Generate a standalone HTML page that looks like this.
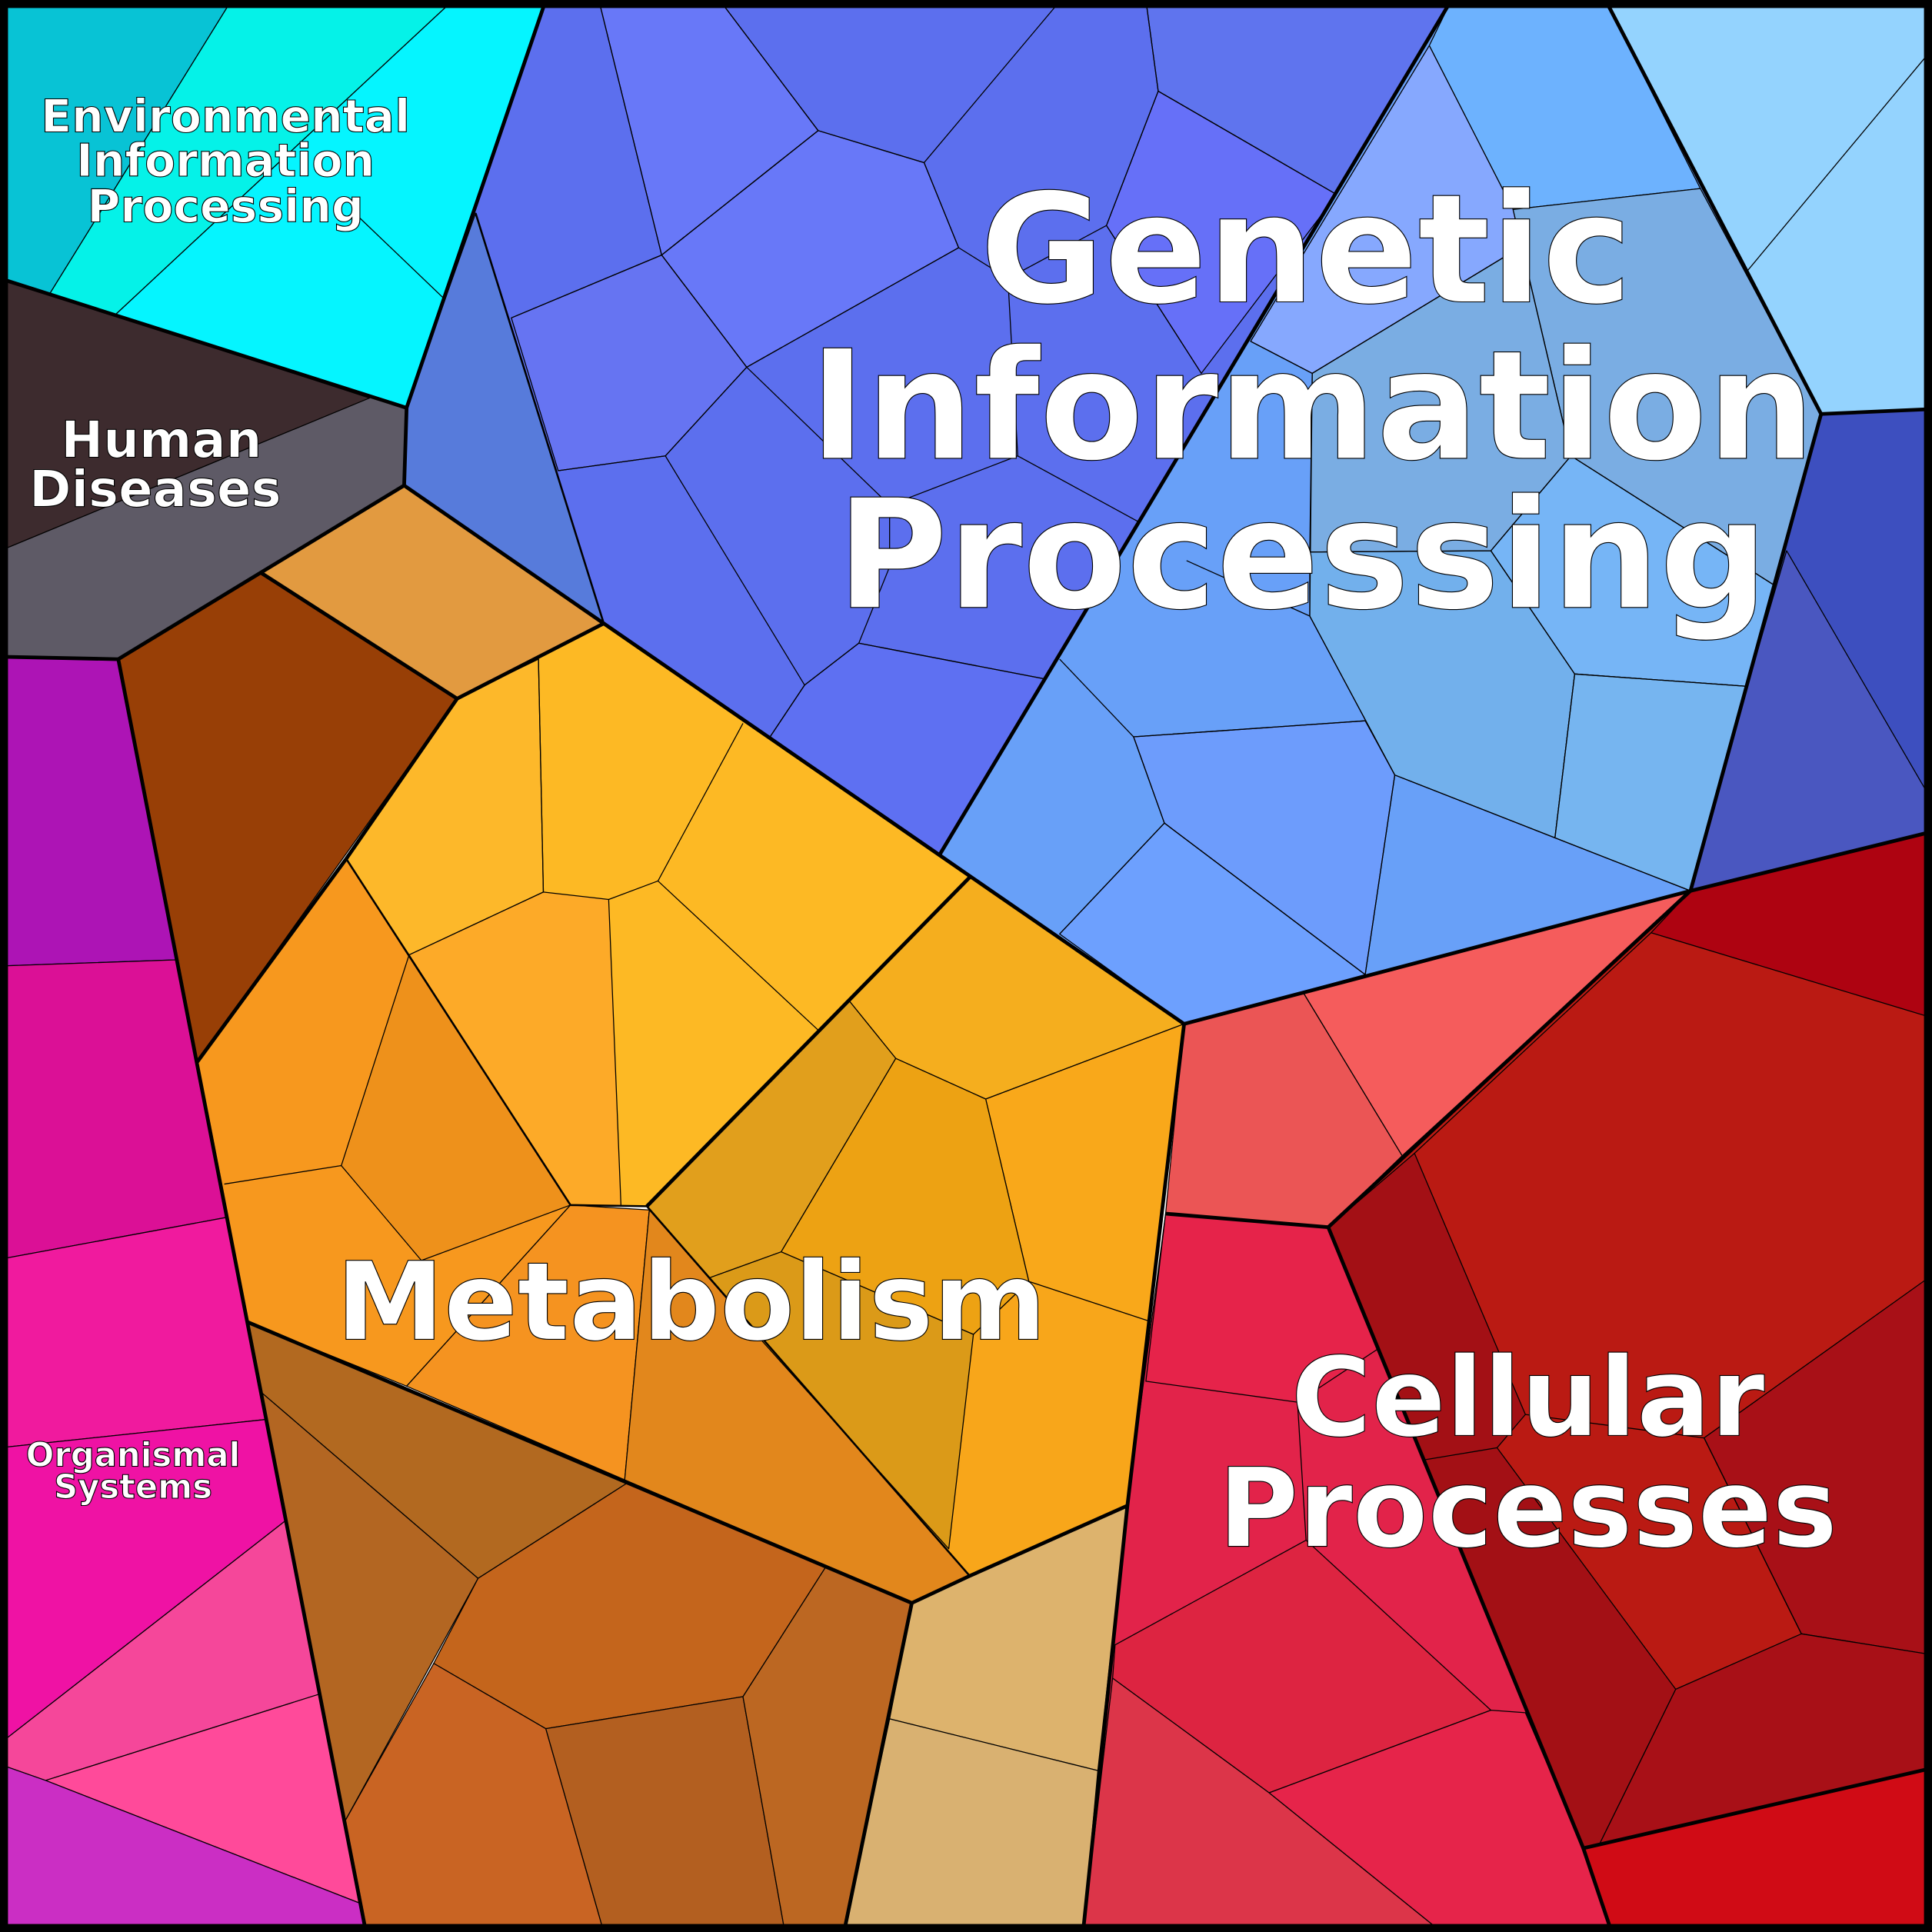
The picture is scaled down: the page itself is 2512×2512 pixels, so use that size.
<!DOCTYPE html>
<html><head><meta charset="utf-8"><style>html,body{margin:0;padding:0;background:#fff}svg{display:block}</style></head>
<body>
<svg xmlns="http://www.w3.org/2000/svg" width="2512" height="2512" viewBox="0 0 1568 1568">
<g stroke="#000" stroke-width="0.8" stroke-linejoin="round">
<!-- Environmental -->
<polygon points="0,0 188,0 40,239 0,226" fill="#08C3D5"/>
<polygon points="188,0 368,0 93,256 40,239" fill="#05F2E8"/>
<polygon points="368,0 443,0 330,331 93,256" fill="#05F5FF"/>
<line x1="290" y1="175" x2="360" y2="242"/>
<!-- Human diseases -->
<polygon points="0,226 330,331 328,394 96,535 0,533" fill="#5E5A66"/>
<polygon points="0,226 300,323 0,447" fill="#3D2B2E"/>
<!-- Genetic left group -->
<polygon points="443,0 1178,0 763,693 490,506 328,394 330,331" fill="#5C6FEE"/>
<polygon points="386,173 490,506 328,394 330,331" fill="#577BDB"/>
<polygon points="486,0 584,0 664,106 537,207" fill="#6878F8"/>
<polygon points="537,207 664,106 750,132 778,201 606,298" fill="#6878F8"/>
<polygon points="415,258 537,207 606,298 540,370 453,382" fill="#6674F2"/>
<polygon points="930,0 1178,0 1085,158 940,74" fill="#5F74EE"/>
<polygon points="940,74 1085,158 975,303 898,183" fill="#6670F8"/>
<polygon points="625,598 653,556 697,522 848,551 763,693" fill="#5E70F2"/>
<g fill="none">
<polyline points="486,0 537,207 415,258"/>
<polyline points="537,207 664,106 584,0"/>
<polyline points="664,106 750,132 861,0"/>
<polyline points="750,132 778,201 606,298 537,207"/>
<polyline points="606,298 540,370 453,382"/>
<polyline points="540,370 653,556 625,598"/>
<polyline points="653,556 697,522 848,551"/>
<polyline points="697,522 722,460 722,410 606,298"/>
<polyline points="778,201 818,226 826,370 722,410"/>
<polyline points="826,370 925,424"/>
<polyline points="930,0 940,74 1085,158"/>
<polyline points="940,74 898,183 975,303"/>
<polyline points="898,183 818,226"/>
</g>
<!-- Genetic middle light blue group -->
<polygon points="1178,0 1303,0 1478,336 1372,723 961,831 763,693" fill="#68A0F8"/>
<polygon points="1160,37 1178,0 1303,0 1380,153 1228,170" fill="#6DB2FE"/>
<polygon points="1160,37 1228,170 1235,200 1065,303 1015,277" fill="#86A8FE"/>
<polygon points="1228,170 1380,153 1478,336 1440,475 1275,370 1235,200" fill="#7AADE3"/>
<polygon points="1065,303 1235,200 1275,370 1210,447 1063,448" fill="#7AADE3"/>
<polygon points="1063,448 1210,447 1278,547 1262,680 1132,629 1063,500" fill="#72B0EC"/>
<polygon points="1275,370 1440,475 1418,557 1278,547 1210,447" fill="#76B5F6"/>
<polygon points="1278,547 1418,557 1372,723 1262,680" fill="#76B5F0"/>
<polygon points="920,598 1108,585 1132,629 1108,791 945,668" fill="#6D9CFC"/>
<polygon points="860,758 945,668 1108,791 961,831" fill="#6DA0FE"/>
<g fill="none">
<polyline points="1015,277 1065,303 1063,500 1132,629 1372,723"/>
<polyline points="1065,303 1235,200 1275,370 1210,447 1278,547 1418,557"/>
<polyline points="1275,370 1440,475"/>
<polyline points="1278,547 1262,680"/>
<polyline points="1063,448 1210,447"/>
<polyline points="1063,500 963,455"/>
<polyline points="1132,629 1108,791 945,668 860,758"/>
<polyline points="1108,585 920,598 860,535"/>
<polyline points="920,598 945,668"/>
</g>
<!-- Genetic right groups -->
<polygon points="1303,0 1568,0 1568,332 1478,336" fill="#94D3FE"/>
<line x1="1418" y1="220" x2="1568" y2="40"/>
<polygon points="1478,336 1568,332 1568,675 1372,723" fill="#3D4FBF"/>
<polygon points="1450,447 1568,650 1568,675 1372,723 1418,557" fill="#4A57C0"/>
<!-- Metabolism -->
<polygon points="96,535 212,465 371,567 160,862" fill="#983F06"/>
<polygon points="212,465 328,394 490,506 371,567" fill="#E29A40"/>
<polygon points="371,567 490,506 787,712 525,979 463,978 281,697" fill="#FDB924"/>
<polygon points="371,567 437,535 441,724 332,775 281,697" fill="#FDB82A"/>
<polygon points="332,775 441,724 494,730 504,979 463,978" fill="#FDAA28"/>
<g fill="none"><polyline points="437,535 441,724"/><polyline points="494,730 534,715 603,587"/><polyline points="534,715 664,836"/></g>
<polygon points="281,697 463,978 330,1125 201,1073 160,862" fill="#F7981E"/>
<polygon points="332,775 463,978 342,1023 277,946" fill="#EE911B"/>
<polyline points="277,946 182,961" fill="none"/>
<polygon points="463,978 527,982 507,1201 330,1125" fill="#F59320"/>
<polygon points="527,982 787,1279 740,1301 507,1201" fill="#E2871C"/>
<polygon points="525,979 787,712 961,831 915,1222 787,1279" fill="#F8A61A"/>
<polygon points="689,812 787,712 961,831 800,892 727,859" fill="#F5AE1E"/>
<polygon points="800,892 961,831 932,1072 835,1040" fill="#F9A81A"/>
<polygon points="525,979 689,812 727,859 634,1016 576,1037" fill="#E19F1C"/>
<polygon points="727,859 800,892 835,1040 790,1083 634,1016" fill="#EDA213"/>
<polygon points="576,1037 634,1016 790,1083 770,1257 620,1090" fill="#DB9A18"/>
<polygon points="201,1073 510,1203 388,1281 212,1130" fill="#B26920"/>
<polygon points="212,1130 388,1281 280,1478" fill="#B36622"/>
<polygon points="388,1281 510,1203 670,1272 603,1377 443,1403 352,1350" fill="#C4651C"/>
<polygon points="352,1350 443,1403 490,1568 297,1568 280,1478" fill="#C96423"/>
<polygon points="443,1403 603,1377 637,1568 490,1568" fill="#B35F20"/>
<polygon points="670,1272 740,1301 685,1568 637,1568 603,1377" fill="#BC6722"/>
<polygon points="740,1301 787,1279 915,1222 891,1437 722,1395" fill="#DDB36D"/>
<polygon points="722,1395 891,1437 879,1568 685,1568" fill="#D9B171"/>
<!-- Cellular -->
<polygon points="961,831 1058,806 1138,938 1078,996 946,985" fill="#EB5555"/>
<polygon points="1058,806 1372,723 1138,938" fill="#F55C5C"/>
<polygon points="1372,723 1568,675 1568,1435 1285,1500 1078,996" fill="#BA1A13"/>
<polygon points="1340,757 1372,723 1568,675 1568,826" fill="#AE0311"/>
<polygon points="1078,996 1148,936 1238,1148 1215,1175 1360,1371 1298,1497 1285,1500" fill="#A31015"/>
<polygon points="1383,1167 1568,1035 1568,1343 1462,1326" fill="#A81017"/>
<polygon points="1360,1371 1462,1326 1568,1343 1568,1435 1298,1497" fill="#A81017"/>
<g fill="none"><polyline points="1340,757 1148,936"/><polyline points="1238,1148 1383,1167 1462,1326"/><polyline points="1215,1175 1155,1185"/></g>
<polygon points="946,985 1078,996 1285,1500 1308,1568 879,1568 915,1222" fill="#E2234A"/>
<polygon points="946,985 1078,996 1118,1095 1053,1138 930,1121" fill="#E6234A"/>
<polygon points="905,1335 1060,1250 1210,1388 1030,1455 903,1362" fill="#DD2441"/>
<polygon points="903,1362 1030,1455 1170,1568 879,1568" fill="#DC3549"/>
<polygon points="1030,1455 1210,1388 1238,1390 1285,1500 1308,1568 1170,1568" fill="#E6244A"/>
<polyline points="1053,1138 1060,1250" fill="none"/>
<polygon points="1285,1500 1568,1435 1568,1568 1308,1568" fill="#D00B15"/>
<!-- Organismal -->
<polygon points="0,533 96,535 143,779 0,784" fill="#AD14B5"/>
<polygon points="0,784 143,779 184,988 0,1022" fill="#DB1096"/>
<polygon points="0,1022 184,988 216,1152 0,1175" fill="#F01A9E"/>
<polygon points="0,1175 216,1152 232,1234 0,1415" fill="#EF12A4"/>
<polygon points="0,1415 232,1234 259,1375 37,1445 0,1432" fill="#F5479A"/>
<polygon points="37,1445 259,1375 293,1545" fill="#FF4A9A"/>
<polygon points="0,1432 37,1445 293,1545 297,1568 0,1568" fill="#CB2EC4"/>
</g>
<!-- thick group borders -->
<g stroke="#000" stroke-width="3" fill="none" stroke-linejoin="round">
<polyline points="0,226 330,331 443,0"/>
<polyline points="330,331 328,394 96,535 0,533"/>
<polyline points="96,535 297,1568"/>
<polyline points="328,394 490,506 961,831 1372,723 1568,675"/>
<polyline points="961,831 915,1222 879,1568"/>
<polyline points="1178,0 763,693"/>
<polyline points="1303,0 1478,336 1372,723"/>
<polyline points="1478,336 1568,332"/>
<polyline points="212,465 371,567 490,506"/>
<polyline points="371,567 281,697 160,862"/>
<polyline points="201,1073 740,1301 787,1279 915,1222"/>
<polyline points="740,1301 685,1568"/>
<polyline points="525,979 787,712"/>
<polyline points="946,985 1078,996 1372,723"/>
<polyline points="1078,996 1285,1500 1568,1435"/>
<polyline points="1285,1500 1308,1568"/>
</g>
<g stroke="#000" stroke-width="1.6" fill="none"><polyline points="386,173 490,506"/><polyline points="281,697 463,978 525,979 787,1279"/></g>
<rect x="3" y="3" width="1562" height="1562" fill="none" stroke="#000" stroke-width="7"/>
<!-- Labels -->
<g font-family="DejaVu Sans, sans-serif" font-weight="bold" fill="#fff" stroke="#000" stroke-width="0.7" text-anchor="middle">
<text x="183" y="107" font-size="36.5">Environmental</text>
<text x="183" y="143" font-size="36.5">Information</text>
<text x="183" y="180" font-size="36.5">Processing</text>
<text x="131" y="371" font-size="41">Human</text>
<text x="126" y="411" font-size="41">Diseases</text>
<text x="108" y="1190" font-size="27">Organismal</text>
<text x="108" y="1216" font-size="27">Systems</text>
<text x="1060" y="245" font-size="123">Genetic</text>
<text x="1065" y="372" font-size="123">Information</text>
<text x="1057" y="493" font-size="123">Processing</text>
<text x="561" y="1087" font-size="88">Metabolism</text>
<text x="1240" y="1165" font-size="89">Cellular</text>
<text x="1240" y="1255" font-size="89">Processes</text>
</g>
</svg>
</body></html>
